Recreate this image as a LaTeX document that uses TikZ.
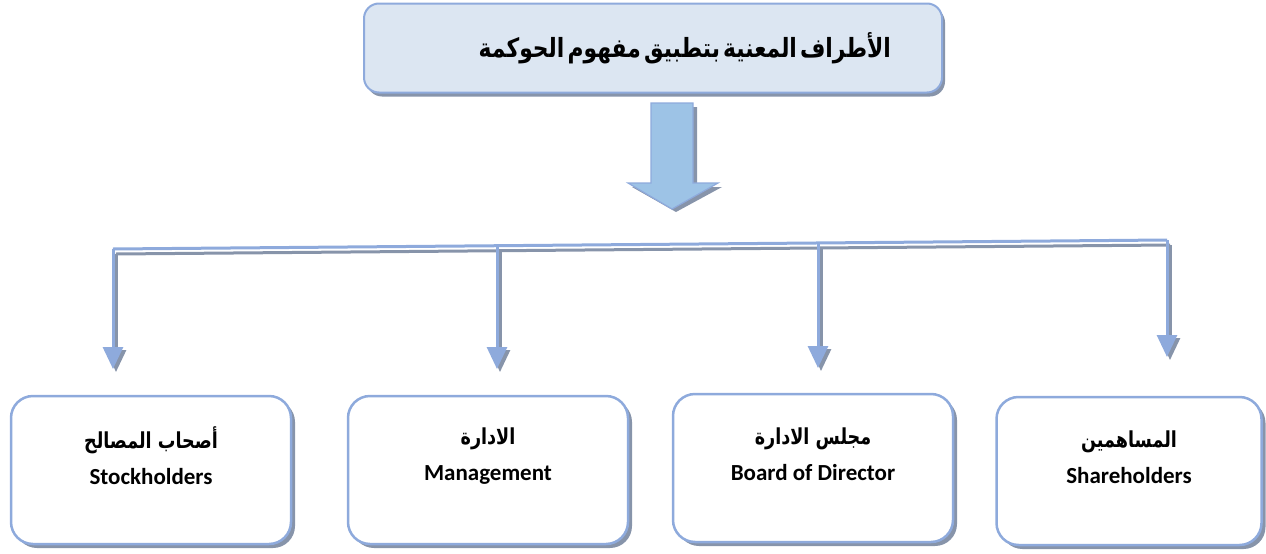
\documentclass[tikz,border=0pt]{standalone}
\usepackage{fontspec}
\setmainfont{Carlito}
\newfontfamily\arabicfont[Script=Arabic]{DejaVu Sans}
\TeXXeTstate=1
\usetikzlibrary{shadows,arrows.meta}
\definecolor{bord}{HTML}{8EAADC}
\definecolor{topfill}{HTML}{DCE6F2}
\definecolor{arrfill}{HTML}{9DC3E6}
\definecolor{shad}{HTML}{8794AA}
\tikzset{
  x=1pt,y=-1pt,
  card/.style={draw=bord,line width=2.5pt,fill=white,rounded corners=22pt,
    minimum width=280pt,minimum height=148pt,
    drop shadow={shadow xshift=4pt,shadow yshift=-4pt,fill=shad,opacity=1}},
  cardtext/.style={align=center,inner sep=0pt,font=\bfseries\fontsize{23}{36}\selectfont},
  titlebox/.style={draw=bord,line width=2pt,fill=topfill,rounded corners=15pt,
    minimum width=578pt,minimum height=89pt,text width=476pt,align=right,inner xsep=51pt,
    drop shadow={shadow xshift=3pt,shadow yshift=-4pt,fill=shad,opacity=1}},
  conn/.style={draw=bord,line width=3pt,-{Triangle[width=20pt,length=22pt]}},
  connsh/.style={draw=shad,line width=3pt,-{Triangle[width=20pt,length=22pt]}},
}
\newcommand{\ar}[1]{\scalebox{0.88}[1.1]{\arabicfont\bfseries\fontsize{20}{24}\selectfont\beginR #1\endR}}
\begin{document}
\begin{tikzpicture}
\useasboundingbox (0,0) rectangle (1266,554);
% title box
\node[titlebox] (top) at (653,48) {\scalebox{0.95}[1.15]{\arabicfont\bfseries\fontsize{23}{28}\selectfont\beginR الأطراف المعنية بتطبيق مفهوم الحوكمة\endR}};
% big arrow
\fill[shad] (655,107) -- (697,107) -- (697,187) -- (722,187) -- (676,212) -- (632,187) -- (655,187) -- cycle;
\draw[bord,line width=1.2pt,fill=arrfill] (651,103) -- (693,103) -- (693,183) -- (718,183) -- (672,209) -- (628,183) -- (651,183) -- cycle;
% boxes
\node[card] (b1) at (151,470) {};
\node[card] (b2) at (488,470) {};
\node[card] (b3) at (813,468) {};
\node[card,minimum width=265pt] (b4) at (1129,471) {};
\node[cardtext] (b1t) at ([yshift=14pt]b1.center) {\ar{أصحاب المصالح}\\Stockholders};
\node[cardtext] (b2t) at ([yshift=14pt]b2.center) {\ar{الادارة}\\Management};
\node[cardtext] (b3t) at ([yshift=14pt]b3.center) {\ar{مجلس الادارة}\\Board of Director};
\node[cardtext] (b4t) at ([yshift=14pt]b4.center) {\ar{المساهمين}\\Shareholders};
% bus coordinates
\coordinate (l) at (113,249);
\coordinate (r) at (1167,240);
\coordinate (c2) at (497,245.7);
\coordinate (c3) at (818,243);
\coordinate (t1) at (113,369);
\coordinate (t2) at (497,369);
\coordinate (t3) at (818,368);
\coordinate (t4) at (1167,357);
% shadows of connectors
\draw[draw=shad,line width=3pt] ([shift={(3,5)}]l) -- ([shift={(3,5)}]r);
\draw[connsh] ([shift={(3,5)}]l) -- ([shift={(3,3)}]t1);
\draw[connsh] ([shift={(3,5)}]c2) -- ([shift={(3,3)}]t2);
\draw[connsh] ([shift={(3,5)}]c3) -- ([shift={(3,3)}]t3);
\draw[connsh] ([shift={(3,5)}]r) -- ([shift={(3,3)}]t4);
% connectors
\draw[draw=bord,line width=3pt] (l) -- (r);
\draw[conn] (l) -- (t1);
\draw[conn] (c2) -- (t2);
\draw[conn] (c3) -- (t3);
\draw[conn] (r) -- (t4);
\end{tikzpicture}
\end{document}
